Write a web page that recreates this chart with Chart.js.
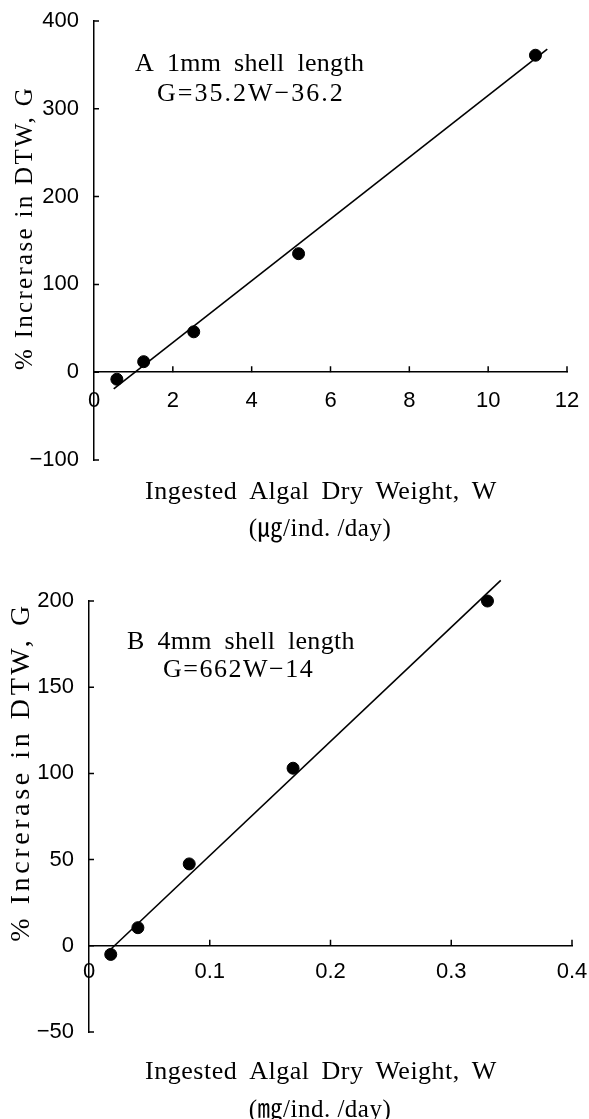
<!DOCTYPE html>
<html>
<head>
<meta charset="utf-8">
<script src="https://cdn.jsdelivr.net/npm/chart.js@4"></script>
<style>
body { margin: 0; background: #fff; }
canvas { display: block; }
</style>
</head>
<body>
<canvas id="chartA" width="589" height="560"></canvas>
<canvas id="chartB" width="589" height="559"></canvas>
<script>
// A: 1mm shell length (ug/ind./day)
const wA = [0.58, 1.26, 2.53, 5.19, 11.2];
const gA = [-8, 12, 46, 135, 361];
const fitWA = [0.5, 11.5];
const fitGA = [-19, 368];

// B: 4mm shell length (mg/ind./day)
const wB = [0.018, 0.0405, 0.083, 0.169, 0.330];
const gB = [-5, 10.5, 47.5, 103, 200];
const fitWB = [0.018, 0.341];
const fitGB = [-2, 212];

const serif = '"Liberation Serif", "DejaVu Serif", "Noto Sans CJK JP", serif';
const sans = '"Liberation Sans", Arial, sans-serif';

// small ticks pointing into the plot, like the original figure
const inwardTicks = {
    id: 'inwardTicks',
    afterDraw(chart) {
        const {ctx, scales: {x, y}} = chart;
        const y0 = y.getPixelForValue(0);
        ctx.save();
        ctx.strokeStyle = '#000';
        ctx.lineWidth = 1.5;
        ctx.beginPath();
        y.ticks.forEach(t => {
            const py = y.getPixelForValue(t.value);
            ctx.moveTo(x.left, py);
            ctx.lineTo(x.left + 5, py);
        });
        x.ticks.forEach(t => {
            if (t.value === 0) return;
            const px = x.getPixelForValue(t.value);
            ctx.moveTo(px, y0);
            ctx.lineTo(px, y0 - 6);
        });
        ctx.stroke();
        ctx.restore();
    }
};

// panel label, equation and axis titles
const notes = {
    id: 'notes',
    afterDraw(chart, args, o) {
        const ctx = chart.ctx;
        ctx.save();
        ctx.fillStyle = '#000';
        ctx.textBaseline = 'middle';
        ctx.font = '26px ' + serif;

        ctx.textAlign = 'left';
        ctx.letterSpacing = '0.3px';
        ctx.wordSpacing = '6px';
        ctx.fillText(o.label, o.labelPos[0], o.labelPos[1]);
        ctx.letterSpacing = o.eqSpacing + 'px';
        ctx.wordSpacing = '0px';
        ctx.fillText(o.eq, o.eqPos[0], o.eqPos[1]);

        ctx.textAlign = 'center';
        ctx.letterSpacing = '0.5px';
        ctx.wordSpacing = '5px';
        ctx.fillText('Ingested Algal Dry Weight, W', 321, o.xTitleY);
        ctx.wordSpacing = '0px';
        ctx.font = '25px ' + serif;
        ctx.fillText(o.unit, 320, o.unitY);

        ctx.translate(o.yTitle.x, o.yTitle.y);
        ctx.rotate(-Math.PI / 2);
        ctx.font = o.yTitle.size + 'px ' + serif;
        ctx.letterSpacing = o.yTitle.spacing + 'px';
        ctx.fillText('% Increrase in DTW, G', 0, 0);
        ctx.restore();
    }
};

function makeChart(id, w, g, fitW, fitG, xOpts, yOpts, pad, noteOpts) {
    const ctx = document.getElementById(id).getContext('2d');
    return new Chart(ctx, {
        type: 'scatter',
        data: {
            datasets: [{
                data: w.map((v, i) => ({x: v, y: g[i]})),
                pointRadius: 6,
                pointBackgroundColor: '#000',
                pointBorderColor: '#000',
                showLine: false,
                clip: false
            }, {
                data: fitW.map((v, i) => ({x: v, y: fitG[i]})),
                pointRadius: 0,
                borderColor: '#000',
                borderWidth: 1.6,
                showLine: true,
                clip: false
            }]
        },
        options: {
            responsive: false,
            animation: false,
            events: [],
            layout: {padding: pad},
            plugins: {
                legend: {display: false},
                tooltip: {enabled: false},
                notes: noteOpts
            },
            scales: {
                x: {
                    type: 'linear',
                    position: {y: 0},
                    min: xOpts.min,
                    max: xOpts.max,
                    grid: {display: false},
                    border: {color: '#000', width: 1.5},
                    ticks: {
                        stepSize: xOpts.step,
                        padding: xOpts.padding,
                        color: '#000',
                        maxRotation: 0,
                        font: {family: sans, size: 22}
                    },
                    afterFit: s => { s.paddingLeft = 0; s.paddingRight = 0; }
                },
                y: {
                    min: yOpts.min,
                    max: yOpts.max,
                    grid: {display: false},
                    border: {color: '#000', width: 1.5},
                    ticks: {
                        stepSize: yOpts.step,
                        padding: 7,
                        color: '#000',
                        font: {family: sans, size: 22},
                        callback: v => String(v).replace('-', '\u2212')
                    },
                    afterFit: s => { s.width = yOpts.width; s.paddingTop = 0; s.paddingBottom = 0; }
                }
            }
        },
        plugins: [inwardTicks, notes]
    });
}

makeChart('chartA', wA, gA, fitWA, fitGA,
    {min: 0, max: 12, step: 2, padding: 8},
    {min: -100, max: 400, step: 100, width: 94},
    {top: 21, right: 22, bottom: 100, left: 0},
    {
        label: 'A 1mm shell length', labelPos: [135, 64],
        eq: 'G=35.2W\u221236.2', eqPos: [157, 94], eqSpacing: 2,
        unit: '(\u338D/ind. /day)', xTitleY: 492, unitY: 529,
        yTitle: {x: 25, y: 228, size: 25, spacing: 2.3}
    });

makeChart('chartB', wB, gB, fitWB, fitGB,
    {min: 0, max: 0.4, step: 0.1, padding: 5},
    {min: -50, max: 200, step: 50, width: 89},
    {top: 41, right: 17, bottom: 87, left: 0},
    {
        label: 'B 4mm shell length', labelPos: [127, 82],
        eq: 'G=662W\u221214', eqPos: [163, 110], eqSpacing: 1.5,
        unit: '(\u338E/ind. /day)', xTitleY: 512, unitY: 550,
        yTitle: {x: 22, y: 212, size: 28, spacing: 3.6}
    });
</script>
</body>
</html>
